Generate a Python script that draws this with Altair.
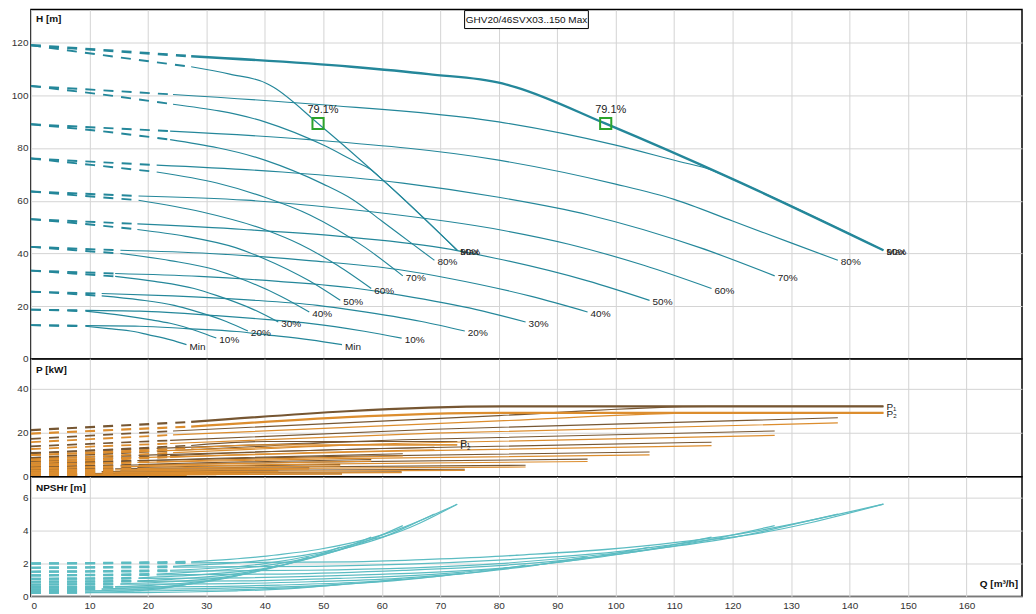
import altair as alt
import pandas as pd

FONT = "Liberation Sans"
W = 993
H_TOP, H_MID, H_BOT = 350, 118, 120
GRID = "#d4d4d4"
TEAL = "#24879a"
CYAN = "#5cbcc2"
P1_COL = "#765632"
P2_COL = "#dc8d2e"
GREEN = "#2ca32c"

TITLE = "GHV20/46SVX03..150 Max"
X_TICKS = list(range(0, 161, 10))
H_TICKS = [0, 20, 40, 60, 80, 100, 120]
P_TICKS = [0, 20, 40]
N_TICKS = [0, 2, 4, 6]

SPEED = ["Max", "90%", "80%", "70%", "60%", "50%", "40%", "30%", "20%", "10%", "Min"]
# end of the dashed (below minimum flow) part, m3/h
QMIN = [27.4, 24.3, 23.8, 21.5, 18.4, 18.2, 15.3, 14.4, 12.1, 9.3, 9.3]

# flow points, one pump running
Q_ONE = [
    [0, 13.7, 27.4, 34, 40.3, 41.5, 49.1, 60.2, 72.9],
    [0, 12.15, 24.3, 40, 50, 55.5, 58, 60.2, 72.9],
    [0, 11.9, 23.8, 40, 50, 55, 60, 65, 69],
    [0, 10.75, 21.5, 31.8, 40, 47.7, 57.2, 63.6],
    [0, 9.2, 18.4, 29.1, 40.3, 46, 52.4, 58.2],
    [0, 9.1, 18.2, 26.45, 35, 39.7, 47.6, 52.9],
    [0, 7.65, 15.3, 23.8, 31.4, 35.7, 42.8, 47.6],
    [0, 7.2, 14.4, 21.15, 27.9, 31.7, 38.1, 42.3],
    [0, 6.05, 12.1, 18.55, 24.5, 27.8, 33.4, 37.1],
    [0, 4.65, 9.3, 15.85, 20.3, 23.8, 28.5, 31.7],
    [0, 4.65, 9.3, 13.3, 17.6, 20, 23.9, 26.6],
]
# flow points, two pumps running
Q_TWO = [
    [0, 27.4, 54.8, 68, 80.6, 83, 98.2, 120.4, 145.8],
    [0, 24.3, 48.6, 80, 100, 111, 116, 120.4, 145.8],
    [0, 23.8, 47.6, 80, 100, 110, 120, 130, 138],
    [0, 21.5, 43, 63.6, 80, 95.4, 114.4, 127.2],
    [0, 18.4, 36.8, 58.2, 80.6, 92, 104.8, 116.4],
    [0, 18.2, 36.4, 52.9, 70, 79.4, 95.2, 105.8],
    [0, 15.3, 30.6, 47.6, 62.8, 71.4, 85.6, 95.2],
    [0, 14.4, 28.8, 42.3, 55.8, 63.4, 76.2, 84.6],
    [0, 12.1, 24.2, 37.1, 49, 55.6, 66.8, 74.2],
    [0, 9.3, 18.6, 31.7, 40.6, 47.6, 57, 63.4],
    [0, 9.3, 18.6, 26.6, 35.2, 40, 47.8, 53.2],
]
# head H [m] at those points
HEAD = [
    [119, 114.8, 110.8, 108, 104.5, 103, 89.3, 67.8, 41.2],
    [103.5, 100.3, 96.6, 89.9, 81.1, 74.8, 72.0, 67.8, 41.2],
    [89, 86.4, 83.2, 75.4, 66.3, 60.5, 52.3, 44, 37.4],
    [76, 73.5, 70.9, 66.7, 61.3, 54.6, 42.2, 31.5],
    [63.5, 61.8, 60.2, 55.8, 48.8, 43.5, 35.5, 26.7],
    [53, 51.2, 49.1, 46.5, 42.2, 38.2, 29.6, 22.2],
    [42.5, 41.2, 40.0, 37.3, 33.9, 30.6, 23.7, 17.8],
    [33.5, 32.4, 31.3, 29.4, 26.7, 24.1, 18.7, 14.0],
    [25.5, 24.8, 23.9, 22.4, 20.3, 18.3, 14.2, 10.6],
    [18.7, 18.4, 18.1, 16.4, 14.9, 13.5, 10.5, 7.9],
    [12.8, 12.6, 12.4, 11.5, 10.4, 9.2, 7.2, 5.4],
]
# NPSHr [m] at those points
NPSH_R = [
    [2.0, 2.04, 2.1, 2.25, 2.45, 2.5, 2.85, 3.75, 5.6],
    [1.74, 1.78, 1.83, 2.2, 2.7, 3.2, 3.44, 3.62, 5.6],
    [1.5, 1.535, 1.59, 1.99, 2.62, 3.04, 3.57, 4.34, 5.0],
    [1.28, 1.31, 1.36, 1.58, 1.87, 2.36, 3.33, 4.3],
    [1.07, 1.09, 1.13, 1.32, 1.72, 2.15, 2.79, 3.6],
    [0.89, 0.91, 0.94, 1.1, 1.37, 1.65, 2.32, 3.0],
    [0.72, 0.74, 0.76, 0.89, 1.1, 1.32, 1.86, 2.4],
    [0.56, 0.57, 0.59, 0.69, 0.86, 1.04, 1.47, 1.9],
    [0.43, 0.44, 0.45, 0.53, 0.66, 0.79, 1.11, 1.43],
    [0.31, 0.32, 0.33, 0.39, 0.47, 0.58, 0.83, 1.07],
    [0.22, 0.225, 0.235, 0.27, 0.34, 0.4, 0.57, 0.73],
]

# power, one pump running
PQ_ONE = [
    [0, 27.4, 40.3, 72.9],
    [0, 24.3, 40, 58, 72.9],
    [0, 23.8, 34.5, 69],
    [0, 21.5, 31.8, 63.6],
    [0, 18.4, 29.1, 58.2],
    [0, 18.2, 26.45, 52.9],
    [0, 15.3, 23.8, 47.6],
    [0, 14.4, 21.15, 42.3],
    [0, 12.1, 18.55, 37.1],
    [0, 9.3, 15.85, 31.7],
    [0, 9.3, 13.3, 26.6],
]
P1_ONE = [
    [10.6, 14.2, 16.0, 16.0],
    [8.6, 11.9, 13.9, 16.0, 16.0],
    [6.9, 9.6, 10.8, 13.4],
    [5.4, 7.45, 8.4, 10.4],
    [4.1, 5.55, 6.35, 7.85],
    [3.15, 4.15, 4.6, 5.6],
    [2.26, 2.95, 3.3, 4.0],
    [1.6, 2.0, 2.2, 2.6],
    [1.05, 1.3, 1.45, 1.7],
    [0.66, 0.82, 0.92, 1.1],
    [0.37, 0.49, 0.54, 0.65],
]
P2_ONE = [
    [9.8, 13.0, 14.5, 14.5],
    [7.85, 10.9, 12.7, 14.5, 14.5],
    [6.3, 8.8, 9.9, 12.25],
    [4.9, 6.75, 7.6, 9.4],
    [3.7, 5.0, 5.7, 7.05],
    [2.8, 3.65, 4.1, 4.95],
    [1.95, 2.55, 2.85, 3.45],
    [1.35, 1.7, 1.85, 2.2],
    [0.9, 1.1, 1.2, 1.45],
    [0.55, 0.68, 0.77, 0.92],
    [0.31, 0.41, 0.45, 0.55],
]
# power, two pumps running
PQ_TWO = [
    [0, 27.4, 80.6, 145.8],
    [0, 24.3, 80, 116, 145.8],
    [0, 23.8, 69, 138],
    [0, 21.5, 63.6, 127.2],
    [0, 18.4, 58.2, 116.4],
    [0, 18.2, 52.9, 105.8],
    [0, 15.3, 47.6, 95.2],
    [0, 14.4, 42.3, 84.6],
    [0, 12.1, 37.1, 74.2],
    [0, 9.3, 31.7, 63.4],
    [0, 9.3, 26.6, 53.2],
]
P1_TWO = [
    [21.2, 24.9, 32.0, 32.0],
    [17.2, 20.8, 27.8, 32.0, 32.0],
    [13.8, 16.5, 21.6, 26.8],
    [10.8, 12.9, 16.8, 20.8],
    [8.2, 9.7, 12.7, 15.7],
    [6.3, 7.3, 9.25, 11.2],
    [4.5, 5.2, 6.6, 8.0],
    [3.2, 3.6, 4.4, 5.2],
    [2.1, 2.35, 2.9, 3.4],
    [1.3, 1.45, 1.85, 2.2],
    [0.74, 0.86, 1.08, 1.3],
]
P2_TWO = [
    [19.6, 22.8, 29.0, 29.0],
    [15.7, 19.0, 25.4, 29.0, 29.0],
    [12.6, 15.1, 19.8, 24.5],
    [9.8, 11.7, 15.2, 18.8],
    [7.4, 8.7, 11.4, 14.1],
    [5.6, 6.45, 8.2, 9.9],
    [3.9, 4.5, 5.7, 6.9],
    [2.7, 3.05, 3.75, 4.4],
    [1.75, 2.0, 2.45, 2.85],
    [1.1, 1.2, 1.55, 1.85],
    [0.62, 0.72, 0.9, 1.1],
]

BEP_Q = [49.1, 98.3]
BEP_H = [89.3, 89.3]
BEP_TEXT = ["79.1%", "79.1%"]


def split_rows(grp, sp, qs, vs, qmin, heavy):
    out = []
    for seg in ("dash", "solid"):
        for q, v in zip(qs, vs):
            if (seg == "dash" and q <= qmin + 1e-9) or (seg == "solid" and q >= qmin - 1e-9):
                out.append({"id": f"{grp}|{sp}|{seg}", "seg": seg,
                            "w": "heavy" if heavy else "thin", "Q": q, "v": v})
    return out


def frame(q1, v1, q2, v2):
    rows = []
    for i, sp in enumerate(SPEED):
        rows += split_rows("1", sp, q1[i], v1[i], QMIN[i], False)
        rows += split_rows("2", sp, q2[i], v2[i], QMIN[i], sp == "Max")
    return pd.DataFrame(rows)


df_h = frame(Q_ONE, HEAD, Q_TWO, HEAD)
df_n = frame(Q_ONE, NPSH_R, Q_TWO, NPSH_R)
df_p1 = frame(PQ_ONE, P1_ONE, PQ_TWO, P1_TWO)
df_p2 = frame(PQ_ONE, P2_ONE, PQ_TWO, P2_TWO)

lab_rows = []
for i, sp in enumerate(SPEED):
    lab_rows.append({"Q": Q_ONE[i][-1], "v": HEAD[i][-1], "t": sp})
    lab_rows.append({"Q": Q_TWO[i][-1], "v": HEAD[i][-1], "t": sp})
df_lab = pd.DataFrame(lab_rows)

df_plab = pd.DataFrame([
    {"Q": PQ_TWO[0][-1], "v": P1_TWO[0][-1], "t": "P\u2081"},
    {"Q": PQ_TWO[0][-1], "v": P2_TWO[0][-1], "t": "P\u2082"},
    {"Q": PQ_ONE[0][-1], "v": P1_ONE[0][-1], "t": "P\u2081"},
    {"Q": PQ_ONE[0][-1], "v": P2_ONE[0][-1], "t": "P\u2082"},
])
df_bep = pd.DataFrame({"Q": BEP_Q, "v": BEP_H, "t": BEP_TEXT})

xscale = alt.Scale(domain=[0, 169.5], nice=False, zero=False)
ax_hidden = alt.Axis(values=X_TICKS, grid=True, gridColor=GRID, labels=False,
                     ticks=False, domain=False, title=None, minExtent=0,
                     maxExtent=0, labelPadding=0)
ax_bottom = alt.Axis(values=X_TICKS, grid=True, gridColor=GRID, labels=True,
                     ticks=False, domain=False, title=None, labelFont=FONT,
                     labelFontSize=10, labelColor="#333", labelPadding=4)
X_HID = alt.X("Q:Q", scale=xscale, axis=ax_hidden)
X_BOT = alt.X("Q:Q", scale=xscale, axis=ax_bottom)


def y_enc(dom, vals):
    return alt.Y("v:Q", scale=alt.Scale(domain=dom, nice=False, zero=True),
                 axis=alt.Axis(values=vals, grid=True, gridColor=GRID, ticks=False,
                               domain=False, title=None, labelFont=FONT,
                               labelFontSize=10, labelColor="#333", labelPadding=3))


Y_H = y_enc([0, 132.5], H_TICKS)
Y_P = y_enc([0, 53.6], P_TICKS)
Y_N = y_enc([0, 7.27], N_TICKS)


def line_layers(df, color, x, y, thin_w, heavy_w, dthin_w, dheavy_w, dash):
    layers = []
    for seg in ("dash", "solid"):
        for w in ("thin", "heavy"):
            sub = df[(df.seg == seg) & (df.w == w)]
            if sub.empty:
                continue
            kw = dict(color=color, interpolate="monotone", strokeCap="butt")
            if seg == "dash":
                kw["strokeDash"] = dash
                kw["strokeWidth"] = dheavy_w if w == "heavy" else dthin_w
            else:
                kw["strokeWidth"] = heavy_w if w == "heavy" else thin_w
            layers.append(alt.Chart(sub).mark_line(**kw).encode(x=x, y=y, detail="id:N"))
    return layers


def panel_label(text, ypix, xpix=5, align="left"):
    return alt.Chart(pd.DataFrame({"t": [text]})).mark_text(
        align=align, baseline="middle", font=FONT, fontSize=10,
        fontWeight="bold", color="#111").encode(
        x=alt.value(xpix), y=alt.value(ypix), text="t:N")


# ---------- top: head ----------
title_box = alt.Chart(pd.DataFrame({"t": [TITLE]})).mark_rect(
    fill="white", stroke="black", strokeWidth=1).encode(
    x=alt.value(W / 2 - 62), x2=alt.value(W / 2 + 62),
    y=alt.value(1), y2=alt.value(19))
title_txt = alt.Chart(pd.DataFrame({"t": [TITLE]})).mark_text(
    font=FONT, fontSize=10, color="#111", align="center", baseline="middle").encode(
    x=alt.value(W / 2), y=alt.value(10.5), text="t:N")

h_lines = line_layers(df_h, TEAL, X_HID, Y_H, 1.15, 2.4, 1.9, 2.6, [10, 8.2])
h_labels = alt.Chart(df_lab).mark_text(
    align="left", baseline="middle", dx=3, dy=2, font=FONT, fontSize=10,
    color="#222").encode(x=X_HID, y=Y_H, text="t:N")
bep_pts = alt.Chart(df_bep).mark_point(
    shape="square", size=125, filled=False, stroke=GREEN, strokeWidth=2,
    opacity=1).encode(x=X_HID, y=Y_H)
bep_txt = alt.Chart(df_bep).mark_text(
    font=FONT, fontSize=11, color="#222", dy=-13, dx=5).encode(
    x=X_HID, y=Y_H, text="t:N")

top = alt.layer(*h_lines, h_labels, bep_pts, bep_txt, title_box, title_txt,
                panel_label("H [m]", 9)).properties(width=W, height=H_TOP)

# ---------- middle: power ----------
p_lines = (line_layers(df_p1, P1_COL, X_HID, Y_P, 1.1, 2.2, 1.7, 2.2, [10, 8.1])
           + line_layers(df_p2, P2_COL, X_HID, Y_P, 1.2, 2.2, 1.8, 2.2, [10, 8.1]))
p_labels = alt.Chart(df_plab).mark_text(
    align="left", baseline="middle", dx=3, dy=1, font=FONT, fontSize=10,
    color="#222").encode(x=X_HID, y=Y_P, text="t:N")
mid = alt.layer(*p_lines, p_labels, panel_label("P [kW]", 11)).properties(
    width=W, height=H_MID)

# ---------- bottom: NPSHr ----------
n_lines = line_layers(df_n, CYAN, X_BOT, Y_N, 1.2, 1.3, 2.2, 2.4, [10, 8.1])
bot = alt.layer(*n_lines, panel_label("NPSHr [m]", 11),
                panel_label("Q [m\u00b3/h]", H_BOT - 12, W - 4, "right")).properties(
    width=W, height=H_BOT)

chart = alt.vconcat(top, mid, bot, spacing=0, bounds="flush").properties(
    padding={"left": 2, "right": 5, "top": 0, "bottom": 0}
).configure_view(stroke="black", strokeWidth=1.5)

chart.save("out.html", embed_options={"renderer": "svg", "actions": False})
